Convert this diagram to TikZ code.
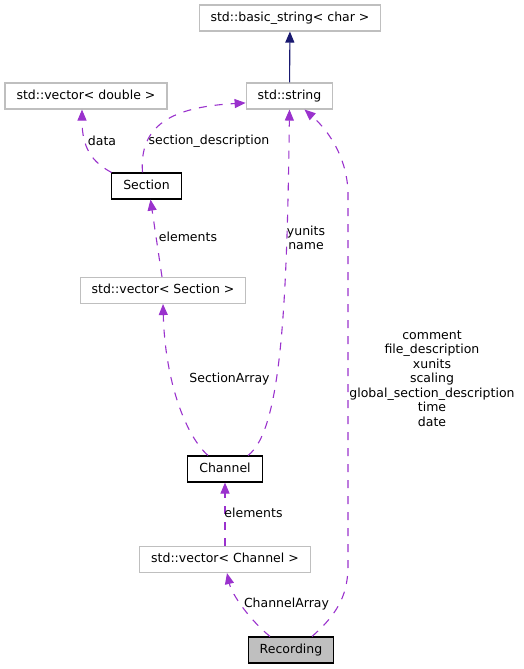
\documentclass[tikz,border=0pt]{standalone}
\usepackage{fontspec}
\setmainfont{DejaVu Sans}
\usetikzlibrary{arrows.meta,calc}
\definecolor{edgepurple}{RGB}{154,50,205}
\definecolor{edgenavy}{RGB}{25,25,112}
\definecolor{boxgray}{RGB}{191,191,191}

\begin{document}
\begin{tikzpicture}[x=1pt, y=-1pt, line width=1.1pt,
    font=\fontsize{12.5}{14.5}\selectfont,
    class box/.style={draw=black, inner xsep=11.5pt, inner ysep=0pt, minimum height=26pt, text height=9pt, text depth=2.5pt},
    extern box/.style={class box, draw=boxgray},
    focus box/.style={class box, fill=boxgray},
    uses/.style={draw=edgepurple, dash pattern=on 8pt off 8pt, -{Triangle[length=11pt,width=9pt]}},
    derives/.style={draw=edgenavy, -{Triangle[length=11pt,width=9pt]}},
    edge label/.style={inner sep=0pt, align=center}
  ]
  \useasboundingbox (0,0) rectangle (524,669);

  % classes
  \node [extern box] (bstr) at (290,18) {std::basic\_string< char >};
  \node [extern box] (str) at (289.5,96) {std::string};
  \node [extern box] (vdbl) at (86,96) {std::vector< double >};
  \node [class box] (sec) at (146.5,186) {Section};
  \node [extern box] (vsec) at (163,290.5) {std::vector< Section >};
  \node [class box] (ch) at (225,469) {Channel};
  \node [extern box] (vch) at (225,559.5) {std::vector< Channel >};
  \node [focus box] (rec) at (291,650) {Recording};

  \coordinate (rlow) at (348,565);
  \coordinate (rhigh) at (348,195);

  % connectors
  \draw [derives] (str) -- (bstr);
  \draw [uses] ([xshift=-35pt]sec.north) .. controls (92,162) and (82,148) .. ([xshift=-4pt]vdbl.south);
  \draw [uses] ([xshift=-4pt]sec.north) .. controls (139,125) and (172,107) .. (str.189);
  \draw [uses] ([xshift=-1pt]vsec.north) -- ([xshift=4pt]sec.south);
  \draw [uses] ([xshift=-17pt]ch.north) .. controls (185,435) and (165,380) .. (vsec.south);
  \draw [uses] ([xshift=23pt]ch.north) .. controls (282,430) and (287,300) .. (str.south);
  \draw [uses] (vch) -- (ch);
  \draw [uses] ([xshift=-21pt]rec.north) .. controls (250,620) and (232,595) .. ([xshift=2pt]vch.south);
  \draw [uses] ([xshift=21pt]rec.north) .. controls (340,612) and (348,592) .. (rlow) -- (rhigh)
    .. controls (348,160) and (330,132) .. ([xshift=15pt]str.south);

  % labels
  \node [edge label] (ldata) at (102,141) {data};
  \node [edge label] (lsecdesc) at (209,141) {section\_description};
  \node [edge label] (lselem) at (188,237) {elements};
  \node [edge label] (lyunits) at (306,238) {yunits\\name};
  \node [edge label] (lsecarr) at (229.5,379) {SectionArray};
  \node [edge label] (lrecstr) at (432,378.5) {comment\\file\_description\\xunits\\scaling\\global\_section\_description\\time\\date};
  \node [edge label] (lchelem) at (253.5,513) {elements};
  \node [edge label] (lcharr) at (286.5,604) {ChannelArray};
\end{tikzpicture}
\end{document}
